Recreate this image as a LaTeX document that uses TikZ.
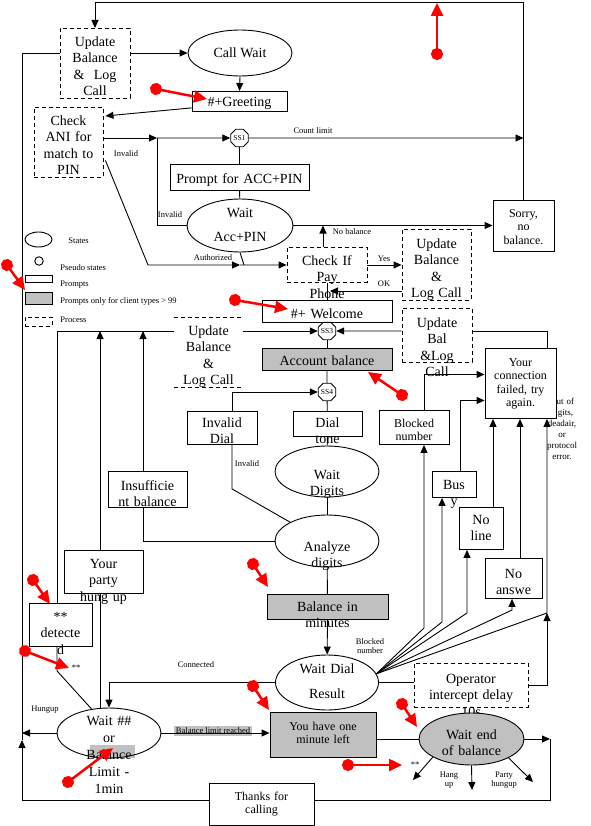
\documentclass[tikz,border=0pt]{standalone}
\usepackage{fontspec}
\setmainfont{Liberation Serif}
\usetikzlibrary{arrows.meta,shapes.geometric}
\definecolor{promptgray}{RGB}{192,192,192}

\begin{document}
\begin{tikzpicture}[x=1pt,y=-1pt,line width=0.9pt,
prompt/.style={draw,rectangle,anchor=north,inner sep=0pt,align=center,font=\fontsize{14}{16.5}\selectfont},
small/.style={font=\fontsize{12}{13.5}\selectfont},
process/.style={prompt,dash pattern=on 4pt off 3pt},
gprompt/.style={prompt,fill=promptgray},
state/.style={draw,ellipse,inner sep=0pt,align=center,font=\fontsize{14}{16.5}\selectfont},
pseudo/.style={draw,regular polygon,regular polygon sides=8,minimum size=19pt,inner sep=0pt,font=\fontsize{7.5}{8}\selectfont},
lbl/.style={font=\fontsize{8.5}{9.5}\selectfont,inner sep=0pt,align=center},
flow/.style={-{Triangle[length=8pt,width=7pt]}},
redpin/.style={red,line width=2.5pt,shorten <=-6pt,{Circle[length=12pt]}-{Triangle[length=13pt,width=12pt]}}]
\path[use as bounding box,fill=white] (0,0) rectangle (590,826);
\node[draw,ellipse,minimum width=27pt,minimum height=15pt,inner sep=0pt] (legstate) at (38.5,239.5) {};
\node[lbl,anchor=west] (legstatetxt) at (68,241) {States};
\node[draw,circle,minimum size=8.5pt,inner sep=0pt] (legpseudo) at (39,261) {};
\node[lbl,anchor=west] (legpseudotxt) at (60,268) {Pseudo states};
\node[draw,minimum width=27pt,minimum height=7pt,inner sep=0pt] (legprompt) at (38.5,278.5) {};
\node[lbl,anchor=west] (legprompttxt) at (60,285) {Prompts};
\node[draw,fill=promptgray,minimum width=27pt,minimum height=12pt,inner sep=0pt] (leggray) at (38.5,298) {};
\node[lbl,anchor=west] (leggraytxt) at (60,301) {Prompts only for client types > 99};
\node[draw,dash pattern=on 4pt off 3pt,minimum width=27pt,minimum height=9pt,inner sep=0pt] (legproc) at (38.5,321.5) {};
\node[lbl,anchor=west] (legproctxt) at (60,320) {Process};
\node[process,text width=70pt,text height=18pt,text depth=52pt] (updbal) at (95,28) {Update\\Balance\\\& \ Log\\Call};
\node[state,minimum width=104pt,minimum height=46pt] (callwait) at (240,53) {Call Wait};
\node[prompt,text width=95pt,text height=15pt,text depth=5pt] (greeting) at (239.5,91) {\#+Greeting};
\node[process,text width=69pt,text height=18pt,text depth=52pt] (checkani) at (68.5,107) {Check\\ANI for\\match to\\PIN};
\node[pseudo] (ss1) at (239.5,138) {SS1};
\node[prompt,text width=139pt,text height=19pt,text depth=7pt] (accpin) at (239.5,164) {Prompt for ACC+PIN};
\node[state,text width=60pt,text height=4pt,text depth=19pt,minimum width=106pt,minimum height=53pt] (waitacc) at (240,225.5) {Wait\\[7.5pt]Acc+PIN};
\node[prompt,small,text width=61pt,text height=17pt,text depth=34pt] (sorry) at (523.5,200) {Sorry,\\no\\balance.};
\node[process,text width=80pt,text height=18pt,text depth=17pt] (checkpay) at (327,247) {Check If\\Pay\\Phone};
\node[process,text width=69pt,text height=19pt,text depth=52pt] (updbal2) at (436.5,229) {Update\\Balance\\\&\\Log Call};
\node[prompt,text width=130pt,text height=18pt,text depth=4pt] (welcome) at (327,300) {\#+ Welcome};
\node[pseudo] (ss3) at (327,331) {SS3};
\node[process,text width=70pt,text height=19pt,text depth=35pt] (updbal3) at (437,308) {Update\\Bal\\\&Log\\Call};
\node[gprompt,text width=130pt,text height=17.5pt,text depth=4.5pt] (account) at (327,348) {Account balance};
\node[pseudo] (ss4) at (327,392) {SS4};
\node[prompt,text width=70pt,text height=16pt,text depth=17pt] (invdial) at (222,411) {Invalid\\Dial};
\node[prompt,text width=69pt,text height=16pt,text depth=9pt] (dialtone) at (327.5,411) {Dial\\tone};
\node[state,text width=60pt,text height=17pt,text depth=2pt,minimum width=104pt,minimum height=51pt] (waitdig) at (327,471.5) {Wait\\Digits};
\node[state,text width=60pt,text height=21pt,text depth=1pt,minimum width=104pt,minimum height=52pt] (analyze) at (327,541) {Analyze\\digits};
\node[prompt,text width=79pt,text height=19pt,text depth=17pt] (insuff) at (147.5,471) {Insufficie\\nt balance};
\node[prompt,text width=79pt,text height=18pt,text depth=25pt] (partyhung) at (103.5,550) {Your\\party\\hung up};
\node[prompt,text width=63pt,text height=18pt,text depth=25pt] (detected) at (60.5,603) {**\\detecte\\d};
\node[gprompt,text width=121pt,text height=17pt,text depth=8pt] (balmin) at (327.5,594) {Balance in\\minutes};
\node[state,text width=64pt,text height=4pt,text depth=23pt,minimum width=103pt,minimum height=55pt] (waitdial) at (327,682.5) {Wait Dial\\[8.5pt]Result};
\node[process,text width=114pt,text height=20pt,text depth=24pt] (operator) at (471,663) {Operator\\intercept delay\\10s};
\node[prompt,small,text width=70pt,text height=17pt,text depth=17pt] (blocked) at (414,410) {Blocked\\number};
\node[prompt,text width=44pt,text height=18pt,text depth=8pt] (busy) at (454,471) {Bus\\y};
\node[prompt,text width=44pt,text height=17pt,text depth=25pt] (noline) at (481,507) {No\\line};
\node[prompt,text width=57pt,text height=20pt,text depth=20pt] (noanswer) at (513.5,558) {No\\answe};
\node[lbl,font=\fontsize{9}{11}\selectfont,text width=40pt,anchor=base] (errlbl) at (562,404) {Out of\\digits,\\deadair,\\or\\protocol\\error.};
\node[prompt,small,fill=white,text width=71pt,text height=18pt,text depth=52pt] (connfail) at (520.5,348) {Your\\connection\\failed, try\\again.};
\fill[promptgray] (90,745) rectangle (135,758);
\node[state,font=\fontsize{14}{17}\selectfont,text width=60pt,text height=4pt,text depth=20pt,minimum width=104pt,minimum height=50pt] (waitbal) at (109,733) {Wait \#\#\\or\\Balance\\Limit -\\1min};
\node[gprompt,small,text width=106pt,text height=18pt,text depth=27pt] (oneminute) at (323,712) {You have one\\minute left};
\node[state,fill=promptgray,text width=64pt,text height=6pt,text depth=6pt,minimum width=105pt,minimum height=52pt] (waitend) at (471.5,739) {Wait end\\of balance};
\node[prompt,small,text width=105pt,text height=17pt,text depth=25pt] (thanks) at (261.5,783) {Thanks for\\calling};
\coordinate (invloop) at (157,138);
\coordinate (authbend) at (148,265);
\coordinate (authmid) at (240,265);
\coordinate (okend) at (330,291);
\coordinate (fanblk) at (424,628);
\coordinate (fanbusy) at (442,622);
\coordinate (fanline) at (467,613);
\coordinate (fanans) at (512,610);
\coordinate (fanright) at (547,613);
\coordinate (hungend) at (22,733);
\coordinate (leftup) at (22,740);
\coordinate (endcorner) at (550,739);
\coordinate (stardst) at (413,780);
\coordinate (hangdst) at (472,790);
\coordinate (partydst) at (533,782);
\draw[flow] (sorry.north) -- ++(0,-198) -| (updbal.north);
\draw[flow] (updbal.east |- callwait.west) -- (callwait.west);
\draw[flow] (callwait.south) -- (greeting.north);
\draw[flow] ([yshift=4pt]greeting.south west) -- ([xshift=2pt,yshift=-9pt]checkani.north east);
\draw[flow] (checkani.east |- ss1) -- (invloop);
\draw[flow] (invloop) -- (ss1.west);
\draw (waitacc.west) -| (invloop);
\node[lbl] (invlbl1) at (126,154) {Invalid};
\node[lbl] (invlbl2) at (170,215) {Invalid};
\draw (ss1) -- (accpin);
\draw (accpin) -- (waitacc);
\draw[flow] (ss1.east) -- (ss1 -| sorry.north);
\node[lbl] (countlbl) at (313,131) {Count limit};
\draw[flow] (waitacc.east) -- (sorry.west |- waitacc.east);
\draw[flow] ([xshift=2pt,yshift=-18pt]checkani.east) -- (authbend) -- (authmid);
\draw[flow] (authmid) -- (checkpay.west);
\draw (waitacc.south) -- ([xshift=4pt]authmid);
\node[lbl] (authlbl) at (213,258) {Authorized};
\draw[flow] ([xshift=-4pt]checkpay.north) -- ([xshift=-4pt]checkpay.north |- waitacc.east);
\node[lbl] (nobal) at (352,232) {No balance};
\draw[flow] (checkpay.east) -- (updbal2.west |- checkpay.east);
\node[lbl] (yeslbl) at (384,259) {Yes};
\draw[flow] (updbal2.west |- okend) -- (okend);
\node[lbl] (oklbl) at (384,284) {OK};
\draw (checkpay.south) -- (welcome.north);
\draw (welcome.south) -- (ss3.north);
\draw (ss3) -- (account);
\draw (account) -- (ss4);
\draw (ss4) -- (dialtone);
\draw (dialtone) -- (waitdig);
\draw (waitdig) -- (analyze);
\draw (analyze) -- (balmin);
\draw[flow] (balmin) -- (waitdial);
\draw[flow] (updbal3.west |- ss3) -- (ss3.east);
\draw (updbal3.east |- ss3) -| ([xshift=-9pt]connfail.north east);
\draw[flow] ([xshift=-3.5pt]detected.north) |- (ss3.west);
\draw[flow] ([xshift=-3.5pt]partyhung.north) -- ([xshift=-3.5pt]partyhung.north |- ss3);
\draw ([xshift=-3.5pt]partyhung.south) -- ([xshift=-3.5pt]partyhung.south |- waitbal.north);
\draw[flow] ([xshift=-4.5pt]insuff.north) -- ([xshift=-4.5pt]insuff.north |- ss3);
\draw ([xshift=-4.5pt]insuff.south) |- (analyze.west);
\draw[flow] ([xshift=10pt]invdial.north) |- (ss4.west);
\draw ([xshift=10pt]invdial.south) -- ++(0,44) -- (analyze.153);
\node[lbl] (invlbl3) at (247,464) {Invalid};
\draw[flow] (waitdial.10) -- (fanblk) -- (fanblk |- blocked.south);
\draw[flow] (waitdial.10) -- (fanbusy) -- (fanbusy |- busy.south);
\draw[flow] (waitdial.10) -- (fanline) -- (fanline |- noline.south);
\draw[flow] (waitdial.10) -- (fanans) -- (fanans |- noanswer.south);
\draw[flow] (waitdial.10) -- (fanright) -- (fanright |- connfail.south);
\draw[flow] (operator.east) -| (fanright);
\node[lbl] (blklbl) at (370,646) {Blocked\\number};
\draw[flow] ([xshift=10pt]blocked.north) |- ([yshift=9pt]connfail.west);
\draw[flow] ([xshift=6pt]busy.north) |- ([yshift=-17pt]connfail.west);
\draw[flow] ([xshift=12pt]noline.north) -- ([xshift=12pt]noline.north |- connfail.south);
\draw[flow] ([xshift=6.5pt]noanswer.north) -- ([xshift=6.5pt]noanswer.north |- connfail.south);
\draw[flow] (waitdial.west) -| (waitbal.north);
\node[lbl] (connlbl) at (196,665) {Connected};
\draw (waitdial.east) -- (operator.west |- waitdial.east);
\node[lbl,fill=promptgray,inner xsep=2pt,inner ysep=2pt] (limlbl) at (213,731) {Balance limit reached};
\draw[flow] (waitbal.east) -- (oneminute.west |- waitbal.east);
\draw (oneminute.east |- waitend.west) -- (waitend.west);
\draw[flow] (waitbal.west) -- (hungend);
\node[lbl] (hunglbl) at (45,710) {Hungup};
\draw[flow] ([yshift=4.5pt]thanks.west) -| (leftup);
\draw (leftup) |- (updbal.west |- callwait.west);
\draw[flow] (waitend.east) -- (endcorner);
\draw (endcorner) |- ([yshift=4.5pt]thanks.east);
\draw[flow] (waitend.205) -- (stardst);
\draw[flow] (waitend.south) -- (hangdst);
\draw[flow] (waitend.333) -- (partydst);
\node[lbl] (starlbl) at (415,765) {**};
\node[lbl] (hanglbl) at (449,780) {Hang\\up};
\node[lbl] (partylbl) at (504,780) {Party\\hungup};
\draw ([xshift=-3.5pt]detected.south) -- ++(0,24) -- (waitbal.126);
\node[lbl] (starlbl2) at (76,668) {**};
\node[prompt,draw=none,fill=white,text width=69pt,text height=18pt,text depth=52pt] (midupd) at (208.5,317) {Update\\Balance\\\&\\Log Call};
\draw[dash pattern=on 4pt off 3pt] (midupd.north west) -- (midupd.north east);
\draw[dash pattern=on 4pt off 3pt] (midupd.south west) -- (midupd.south east);
\draw[redpin] (437,54) -- (437,3);
\draw[redpin] (156,89) -- (207,99);
\draw[redpin] (7,265) -- (25,290);
\draw[redpin] (235,300) -- (288,309);
\draw[redpin] (402,395) -- (368,372);
\draw[redpin] (253,564) -- (268,587);
\draw[redpin] (33,580) -- (50,604);
\draw[redpin] (25,651) -- (69,668);
\draw[redpin] (68,782) -- (113,748);
\draw[redpin] (253,686) -- (269,710);
\draw[redpin] (402,704) -- (417,727);
\draw[redpin] (348,765) -- (402,765);
\end{tikzpicture}
\end{document}
